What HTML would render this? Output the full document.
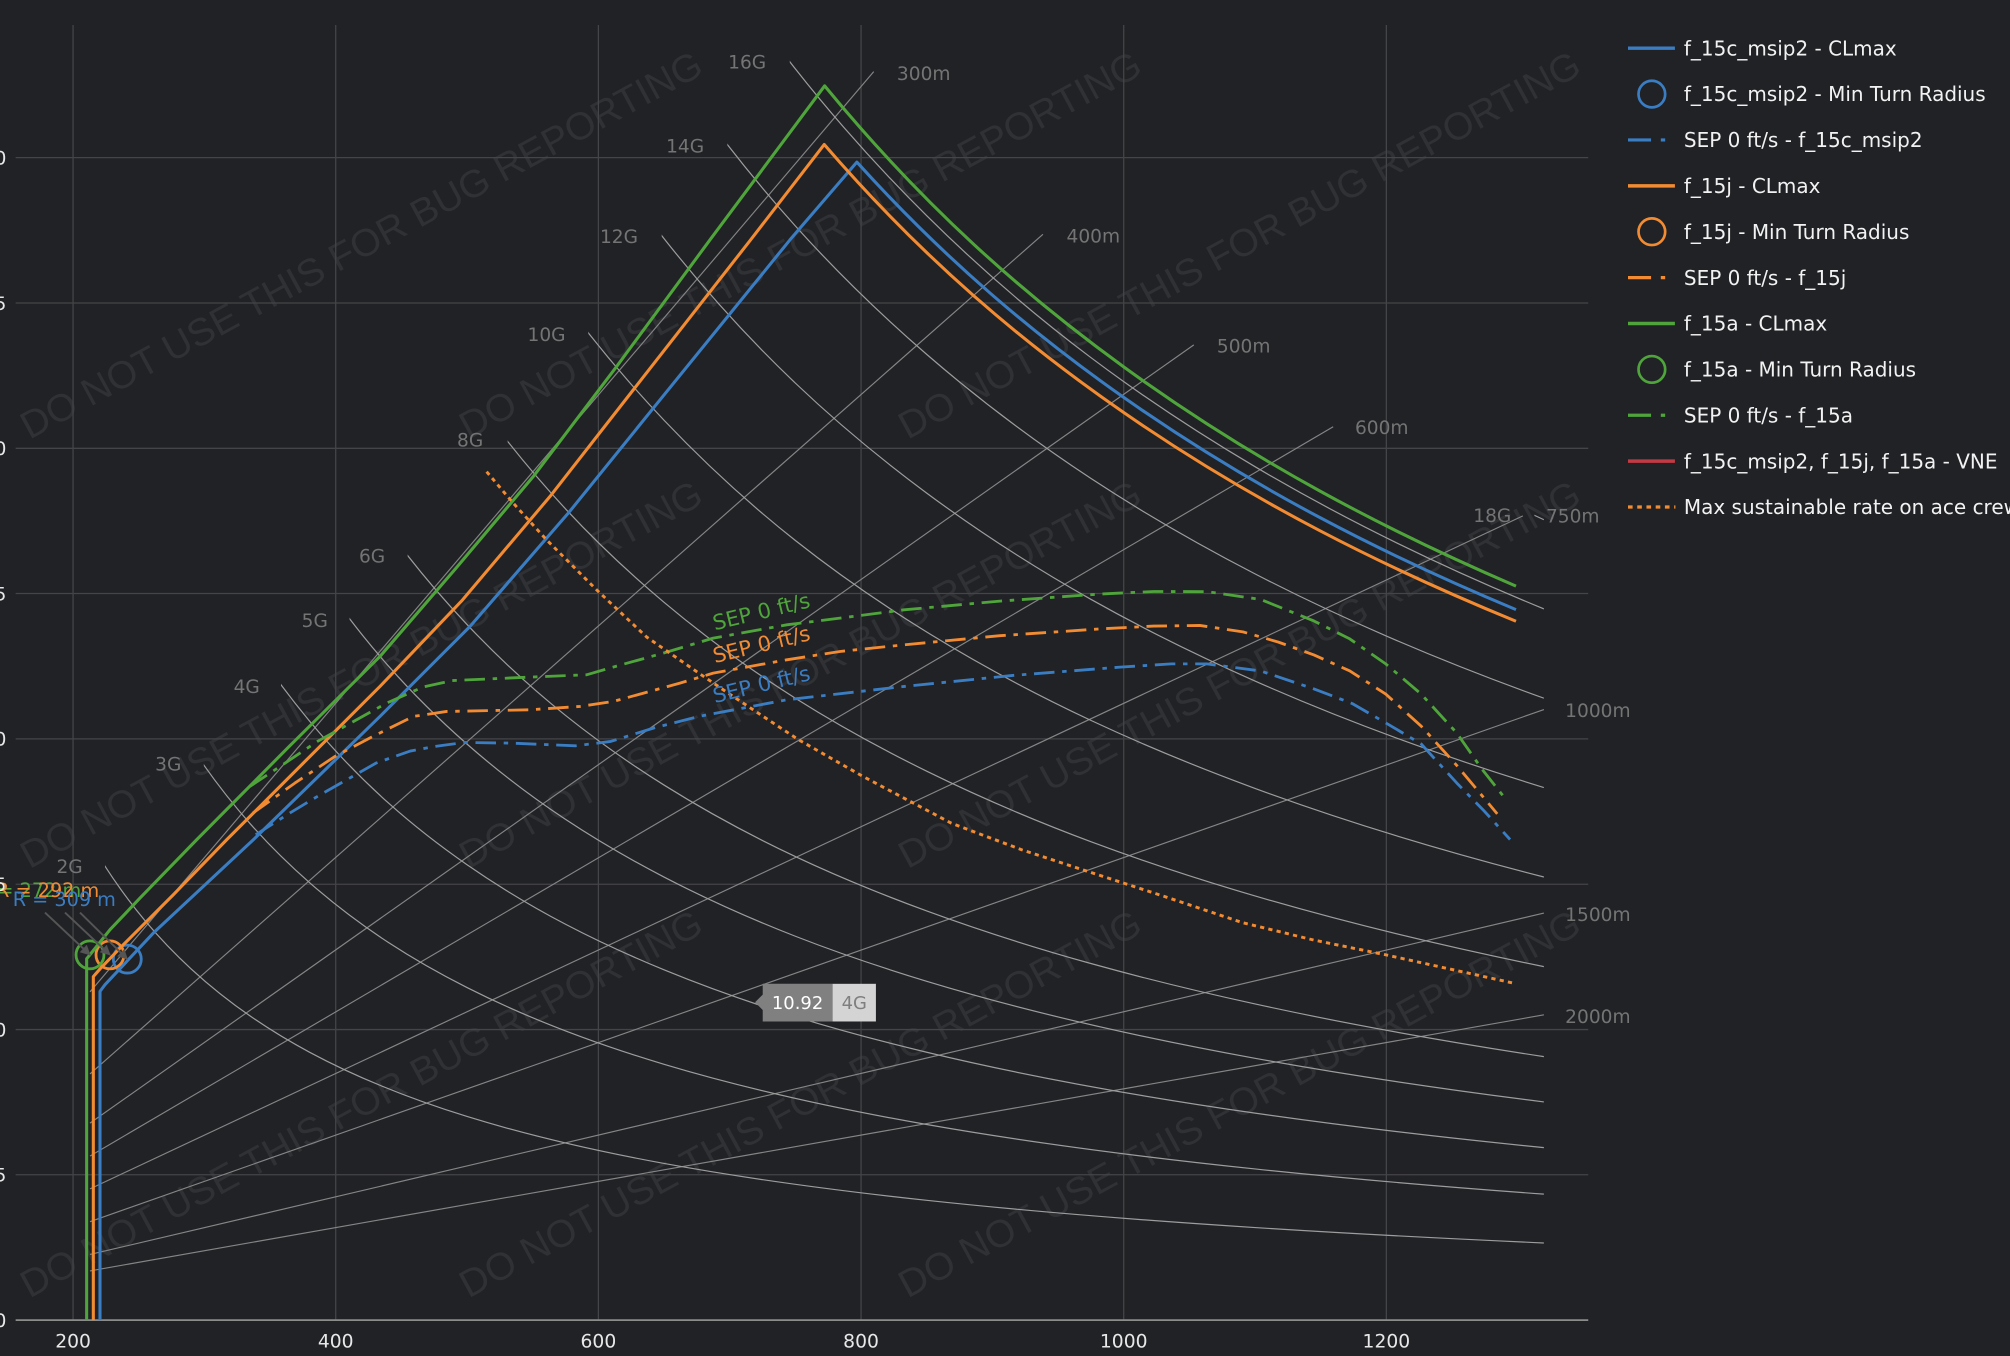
<!DOCTYPE html>
<html>
<head>
<meta charset="utf-8">
<style>
html,body{margin:0;padding:0;background:#202225;overflow:hidden;}
svg{display:block;}
</style>
</head>
<body>
<svg xmlns="http://www.w3.org/2000/svg" width="2010" height="1356" viewBox="0 0 1568 1058" preserveAspectRatio="none" font-family="'DejaVu Sans','Liberation Sans',sans-serif">
<defs>
<clipPath id="c2"><rect x="81.9" y="0" width="1122.5" height="1058"/></clipPath>
<clipPath id="c3"><rect x="159" y="0" width="1045.4" height="1058"/></clipPath>
<clipPath id="c4"><rect x="219.2" y="0" width="985.2" height="1058"/></clipPath>
<clipPath id="c5"><rect x="272.7" y="0" width="931.7" height="1058"/></clipPath>
<clipPath id="c6"><rect x="318" y="0" width="886.4" height="1058"/></clipPath>
<clipPath id="c8"><rect x="396" y="0" width="808.4" height="1058"/></clipPath>
<clipPath id="c10"><rect x="458.9" y="0" width="745.5" height="1058"/></clipPath>
<clipPath id="c12"><rect x="516.2" y="0" width="688.2" height="1058"/></clipPath>
<clipPath id="c14"><rect x="567.4" y="0" width="637" height="1058"/></clipPath>
<clipPath id="c16"><rect x="616.1" y="0" width="588.3" height="1058"/></clipPath>
<clipPath id="c18"><rect x="1197" y="0" width="7.4" height="1058"/></clipPath>
<marker id="ah" viewBox="0 0 10 10" refX="9" refY="5" markerWidth="9" markerHeight="8" markerUnits="userSpaceOnUse" orient="auto"><path d="M0,0 L10,5 L0,10 z" fill="#555"/></marker>
</defs>

<rect x="0" y="0" width="1568" height="1058" fill="#202225"/>

<!-- watermark -->
<g font-size="30" fill="#2f3134" font-family="'Liberation Sans',sans-serif">
<text transform="translate(23 343.2) rotate(-28.5)" textLength="600" lengthAdjust="spacingAndGlyphs">DO NOT USE THIS FOR BUG REPORTING</text>
<text transform="translate(365.5 343.2) rotate(-28.5)" textLength="600" lengthAdjust="spacingAndGlyphs">DO NOT USE THIS FOR BUG REPORTING</text>
<text transform="translate(708 343.2) rotate(-28.5)" textLength="600" lengthAdjust="spacingAndGlyphs">DO NOT USE THIS FOR BUG REPORTING</text>
<text transform="translate(23 678.2) rotate(-28.5)" textLength="600" lengthAdjust="spacingAndGlyphs">DO NOT USE THIS FOR BUG REPORTING</text>
<text transform="translate(365.5 678.2) rotate(-28.5)" textLength="600" lengthAdjust="spacingAndGlyphs">DO NOT USE THIS FOR BUG REPORTING</text>
<text transform="translate(708 678.2) rotate(-28.5)" textLength="600" lengthAdjust="spacingAndGlyphs">DO NOT USE THIS FOR BUG REPORTING</text>
<text transform="translate(23 1013.2) rotate(-28.5)" textLength="600" lengthAdjust="spacingAndGlyphs">DO NOT USE THIS FOR BUG REPORTING</text>
<text transform="translate(365.5 1013.2) rotate(-28.5)" textLength="600" lengthAdjust="spacingAndGlyphs">DO NOT USE THIS FOR BUG REPORTING</text>
<text transform="translate(708 1013.2) rotate(-28.5)" textLength="600" lengthAdjust="spacingAndGlyphs">DO NOT USE THIS FOR BUG REPORTING</text>
</g>

<!-- grid -->
<g stroke="#444548" stroke-width="1">
<line x1="12.2" y1="123" x2="1239" y2="123"/>
<line x1="12.2" y1="236.4" x2="1239" y2="236.4"/>
<line x1="12.2" y1="349.8" x2="1239" y2="349.8"/>
<line x1="12.2" y1="463.1" x2="1239" y2="463.1"/>
<line x1="12.2" y1="576.5" x2="1239" y2="576.5"/>
<line x1="12.2" y1="689.9" x2="1239" y2="689.9"/>
<line x1="12.2" y1="803.3" x2="1239" y2="803.3"/>
<line x1="12.2" y1="916.6" x2="1239" y2="916.6"/>
<line x1="57" y1="19.5" x2="57" y2="1030"/>
<line x1="261.9" y1="19.5" x2="261.9" y2="1030"/>
<line x1="466.8" y1="19.5" x2="466.8" y2="1030"/>
<line x1="671.7" y1="19.5" x2="671.7" y2="1030"/>
<line x1="876.6" y1="19.5" x2="876.6" y2="1030"/>
<line x1="1081.5" y1="19.5" x2="1081.5" y2="1030"/>
</g>
<line x1="12.2" y1="1030" x2="1239" y2="1030" stroke="#8c8c8c" stroke-width="1.4"/>

<!-- radius lines -->
<g stroke="#858585" stroke-width="0.9">
<line x1="70.2" y1="773.9" x2="681.6" y2="55.9"/>
<line x1="70.2" y1="837.9" x2="813.6" y2="182.8"/>
<line x1="70.2" y1="876.3" x2="931.3" y2="269.1"/>
<line x1="70.2" y1="902" x2="1040" y2="333"/>
<line x1="70.2" y1="927.6" x2="1188" y2="402.5"/>
<line x1="70.2" y1="953.2" x2="1204.4" y2="553.6"/>
<line x1="70.2" y1="978.8" x2="1204.4" y2="712.4"/>
<line x1="70.2" y1="991.6" x2="1204.4" y2="791.8"/>
</g>

<!-- constant G lines -->
<g fill="none" stroke="#9d9d9d" stroke-width="1.2">
<g clip-path="url(#c2)"><path vector-effect="non-scaling-stroke" transform="translate(0 1030) scale(1 79.444)" d="M77.49,-4.54545 C101.395,-4.06336 125.3,-3.72573 149.205,-3.44828 C179.94,-3.09156 210.675,-2.83934 241.41,-2.63158 C282.39,-2.35457 323.37,-2.16 364.35,-2 C415.575,-1.8 466.8,-1.6568 518.025,-1.53846 C586.325,-1.38067 654.625,-1.26874 722.925,-1.17647 C808.3,-1.06113 893.675,-0.97796 979.05,-0.90909 C1054.18,-0.84848 1129.31,-0.79966 1204.44,-0.757576"/></g>
<g clip-path="url(#c3)"><path vector-effect="non-scaling-stroke" transform="translate(0 1030) scale(1 129.73)" d="M77.49,-4.54545 C101.395,-4.06336 125.3,-3.72573 149.205,-3.44828 C179.94,-3.09156 210.675,-2.83934 241.41,-2.63158 C282.39,-2.35457 323.37,-2.16 364.35,-2 C415.575,-1.8 466.8,-1.6568 518.025,-1.53846 C586.325,-1.38067 654.625,-1.26874 722.925,-1.17647 C808.3,-1.06113 893.675,-0.97796 979.05,-0.90909 C1054.18,-0.84848 1129.31,-0.79966 1204.44,-0.757576"/></g>
<g clip-path="url(#c4)"><path vector-effect="non-scaling-stroke" transform="translate(0 1030) scale(1 177.643)" d="M77.49,-4.54545 C101.395,-4.06336 125.3,-3.72573 149.205,-3.44828 C179.94,-3.09156 210.675,-2.83934 241.41,-2.63158 C282.39,-2.35457 323.37,-2.16 364.35,-2 C415.575,-1.8 466.8,-1.6568 518.025,-1.53846 C586.325,-1.38067 654.625,-1.26874 722.925,-1.17647 C808.3,-1.06113 893.675,-0.97796 979.05,-0.90909 C1054.18,-0.84848 1129.31,-0.79966 1204.44,-0.757576"/></g>
<g clip-path="url(#c5)"><path vector-effect="non-scaling-stroke" transform="translate(0 1030) scale(1 224.7)" d="M77.49,-4.54545 C101.395,-4.06336 125.3,-3.72573 149.205,-3.44828 C179.94,-3.09156 210.675,-2.83934 241.41,-2.63158 C282.39,-2.35457 323.37,-2.16 364.35,-2 C415.575,-1.8 466.8,-1.6568 518.025,-1.53846 C586.325,-1.38067 654.625,-1.26874 722.925,-1.17647 C808.3,-1.06113 893.675,-0.97796 979.05,-0.90909 C1054.18,-0.84848 1129.31,-0.79966 1204.44,-0.757576"/></g>
<g clip-path="url(#c6)"><path vector-effect="non-scaling-stroke" transform="translate(0 1030) scale(1 271.352)" d="M77.49,-4.54545 C101.395,-4.06336 125.3,-3.72573 149.205,-3.44828 C179.94,-3.09156 210.675,-2.83934 241.41,-2.63158 C282.39,-2.35457 323.37,-2.16 364.35,-2 C415.575,-1.8 466.8,-1.6568 518.025,-1.53846 C586.325,-1.38067 654.625,-1.26874 722.925,-1.17647 C808.3,-1.06113 893.675,-0.97796 979.05,-0.90909 C1054.18,-0.84848 1129.31,-0.79966 1204.44,-0.757576"/></g>
<g clip-path="url(#c8)"><path vector-effect="non-scaling-stroke" transform="translate(0 1030) scale(1 364.047)" d="M77.49,-4.54545 C101.395,-4.06336 125.3,-3.72573 149.205,-3.44828 C179.94,-3.09156 210.675,-2.83934 241.41,-2.63158 C282.39,-2.35457 323.37,-2.16 364.35,-2 C415.575,-1.8 466.8,-1.6568 518.025,-1.53846 C586.325,-1.38067 654.625,-1.26874 722.925,-1.17647 C808.3,-1.06113 893.675,-0.97796 979.05,-0.90909 C1054.18,-0.84848 1129.31,-0.79966 1204.44,-0.757576"/></g>
<g clip-path="url(#c10)"><path vector-effect="non-scaling-stroke" transform="translate(0 1030) scale(1 456.357)" d="M77.49,-4.54545 C101.395,-4.06336 125.3,-3.72573 149.205,-3.44828 C179.94,-3.09156 210.675,-2.83934 241.41,-2.63158 C282.39,-2.35457 323.37,-2.16 364.35,-2 C415.575,-1.8 466.8,-1.6568 518.025,-1.53846 C586.325,-1.38067 654.625,-1.26874 722.925,-1.17647 C808.3,-1.06113 893.675,-0.97796 979.05,-0.90909 C1054.18,-0.84848 1129.31,-0.79966 1204.44,-0.757576"/></g>
<g clip-path="url(#c12)"><path vector-effect="non-scaling-stroke" transform="translate(0 1030) scale(1 548.486)" d="M77.49,-4.54545 C101.395,-4.06336 125.3,-3.72573 149.205,-3.44828 C179.94,-3.09156 210.675,-2.83934 241.41,-2.63158 C282.39,-2.35457 323.37,-2.16 364.35,-2 C415.575,-1.8 466.8,-1.6568 518.025,-1.53846 C586.325,-1.38067 654.625,-1.26874 722.925,-1.17647 C808.3,-1.06113 893.675,-0.97796 979.05,-0.90909 C1054.18,-0.84848 1129.31,-0.79966 1204.44,-0.757576"/></g>
<g clip-path="url(#c14)"><path vector-effect="non-scaling-stroke" transform="translate(0 1030) scale(1 640.478)" d="M77.49,-4.54545 C101.395,-4.06336 125.3,-3.72573 149.205,-3.44828 C179.94,-3.09156 210.675,-2.83934 241.41,-2.63158 C282.39,-2.35457 323.37,-2.16 364.35,-2 C415.575,-1.8 466.8,-1.6568 518.025,-1.53846 C586.325,-1.38067 654.625,-1.26874 722.925,-1.17647 C808.3,-1.06113 893.675,-0.97796 979.05,-0.90909 C1054.18,-0.84848 1129.31,-0.79966 1204.44,-0.757576"/></g>
<g clip-path="url(#c16)"><path vector-effect="non-scaling-stroke" transform="translate(0 1030) scale(1 732.448)" d="M77.49,-4.54545 C101.395,-4.06336 125.3,-3.72573 149.205,-3.44828 C179.94,-3.09156 210.675,-2.83934 241.41,-2.63158 C282.39,-2.35457 323.37,-2.16 364.35,-2 C415.575,-1.8 466.8,-1.6568 518.025,-1.53846 C586.325,-1.38067 654.625,-1.26874 722.925,-1.17647 C808.3,-1.06113 893.675,-0.97796 979.05,-0.90909 C1054.18,-0.84848 1129.31,-0.79966 1204.44,-0.757576"/></g>
<g clip-path="url(#c18)"><path vector-effect="non-scaling-stroke" transform="translate(0 1030) scale(1 824.304)" d="M77.49,-4.54545 C101.395,-4.06336 125.3,-3.72573 149.205,-3.44828 C179.94,-3.09156 210.675,-2.83934 241.41,-2.63158 C282.39,-2.35457 323.37,-2.16 364.35,-2 C415.575,-1.8 466.8,-1.6568 518.025,-1.53846 C586.325,-1.38067 654.625,-1.26874 722.925,-1.17647 C808.3,-1.06113 893.675,-0.97796 979.05,-0.90909 C1054.18,-0.84848 1129.31,-0.79966 1204.44,-0.757576"/></g>
</g>

<!-- G labels and radius labels -->
<g font-size="14.5" fill="#747474">
<g text-anchor="end">
<text x="597.7" y="53.3">16G</text>
<text x="549.3" y="119.1">14G</text>
<text x="497.7" y="189.8">12G</text>
<text x="441.2" y="266">10G</text>
<text x="377" y="348.4">8G</text>
<text x="300.5" y="438.7">6G</text>
<text x="255.8" y="489.3">5G</text>
<text x="202.7" y="540.8">4G</text>
<text x="141.5" y="601">3G</text>
<text x="64.5" y="681.2">2G</text>
<text x="1179" y="407.4">18G</text>
</g>
<text x="699.7" y="62.4">300m</text>
<text x="832" y="189.3">400m</text>
<text x="949.3" y="275">500m</text>
<text x="1057" y="338.5">600m</text>
<text x="1206" y="407.5">750m</text>
<text x="1221" y="559.5">1000m</text>
<text x="1221" y="718.5">1500m</text>
<text x="1221" y="798">2000m</text>
</g>

<!-- series -->
<g fill="none" stroke-linejoin="round">
<!-- blue -->
<path stroke="#3b7dc2" stroke-width="2.4" d="M78,1030 L78,773.5 L81.9,768.3 L119.6,728 L197.6,655.2 L296.4,559 L366.6,488.8 L443.3,400.4 L509.6,318.5 L616.2,187.2 L668.42,126.47 C737.81,203.28 807.21,261.31 876.6,310.07 C978.6,381.75 1080.62,433.15 1182.62,475.65"/>
<circle cx="99.3" cy="748.3" r="10.9" stroke="#3b7dc2" stroke-width="2.2"/>
<path stroke="#3b7dc2" stroke-width="2.2" stroke-dasharray="16 6 3.5 6" d="M199.5,651.3 L225,635 L247.6,621.4 L293.3,595.4 L320,586 L339.1,582.4 L362,579.3 L398.6,579.8 L449,581.9 L476.4,578.5 L510,568 L545.1,559 L613.8,546 L705.3,535.6 L790,527 L873.8,520.5 L913.7,518 L941.5,518 L983.4,523.5 L1025,537.5 L1055,549 L1081,564 L1108.7,580.5 L1136.5,611 L1158,633 L1178,655"/>
<!-- orange -->
<path stroke="#f28b32" stroke-width="2.4" d="M72.8,1030 L72.8,762 L78,756 L96.2,737.1 L135.2,698.1 L176.8,655.2 L236,596 L296.4,535.6 L360,469 L429,387.4 L494,304.2 L585.5,187.2 L643.01,112.72 C720.87,203.02 798.74,268.04 876.6,321.86 C978.6,392.37 1080.62,442.93 1182.62,484.73"/>
<circle cx="85.8" cy="745" r="10.9" stroke="#f28b32" stroke-width="2.2"/>
<path stroke="#f28b32" stroke-width="2.2" stroke-dasharray="16 6 3.5 6" d="M197.2,634.4 L230,611 L261.3,590.2 L290,575 L322.4,559 L348.4,555.1 L413.4,553.8 L452.4,551.2 L478.4,547.3 L530.4,533 L556.4,525.2 L613.8,514.8 L655.2,508.3 L705.3,503.1 L780,496 L858,490.7 L900,488.5 L936,488 L969.6,493 L997.3,501 L1025,511 L1053,523.5 L1081,541.5 L1108.7,566.6 L1136.5,597.3 L1168,635"/>
<!-- green -->
<path stroke="#4fa53b" stroke-width="2.4" d="M67.6,1030 L67.6,748 L69.7,745.5 L85.8,725.4 L109.2,700.7 L153.4,655.2 L225,583 L296.4,512.2 L356,443 L416,371.8 L481,286 L553.8,187.2 L643.32,66.98 C721.08,161.62 798.84,229.81 876.6,286.26 C978.6,360.31 1080.62,413.42 1182.62,457.32"/>
<circle cx="70.2" cy="745" r="10.9" stroke="#4fa53b" stroke-width="2.2"/>
<path stroke="#4fa53b" stroke-width="2.2" stroke-dasharray="16 6 3.5 6" d="M194.9,613.6 L220,597 L247.6,578.5 L301.6,548.6 L330,536 L352.8,531 L413.4,528.3 L457.6,526.5 L480,520 L517.4,509.6 L556.4,497.9 L613.8,487.5 L655.2,482.3 L705.3,475.8 L780,469 L858,463.5 L900,461.5 L941.5,461.6 L983.4,467.7 L1025,484.5 L1053,498.5 L1081,518 L1108.6,541.5 L1136.5,572 L1156,600 L1172.6,621"/>
<!-- max sustainable -->
<path stroke="#f28b32" stroke-width="2.3" stroke-dasharray="3.3 3.3" d="M379.6,368 L400.4,392.6 L426.4,421.2 L465.4,460.2 L504.4,497 L543.4,524 L568,540.8 L595.4,559 L623,577.2 L673.2,605.8 L742,642.2 L796.9,663 L858,683 L910,700 L969.6,720 L1025,733.5 L1081,745 L1182.6,767.5"/>
</g>

<!-- SEP labels -->
<g font-size="16.4">
<text transform="translate(557.6 491.8) rotate(-13.6)" fill="#4fa53b">SEP 0 ft/s</text>
<text transform="translate(557.7 517.4) rotate(-13.6)" fill="#f28b32">SEP 0 ft/s</text>
<text transform="translate(557.7 548.6) rotate(-13.6)" fill="#3b7dc2">SEP 0 ft/s</text>
</g>

<!-- min radius annotations -->
<g font-size="15">
<text x="-17.2" y="699.7" fill="#4fa53b">R = 272 m</text>
<text x="-3.1" y="699.7" fill="#f28b32">R = 292 m</text>
<text x="9.9" y="707" fill="#3b7dc2">R = 309 m</text>
</g>
<g stroke="#555" stroke-width="1.5" marker-end="url(#ah)">
<line x1="35.1" y1="712" x2="70.2" y2="745"/>
<line x1="50.7" y1="712" x2="85.8" y2="745"/>
<line x1="62.4" y1="712" x2="99.3" y2="748.3"/>
</g>

<!-- hover label -->
<path d="M589,782 L595,776 L595,767.6 L649.5,767.6 L649.5,797 L595,797 L595,788 Z" fill="#808080"/>
<rect x="649.5" y="767.6" width="33.8" height="29.4" fill="#d4d4d4"/>
<text x="622.2" y="787.2" text-anchor="middle" fill="#ffffff" font-size="14">10.92</text>
<text x="666.4" y="787.2" text-anchor="middle" fill="#7f7f7f" font-size="14">4G</text>

<!-- axis tick labels -->
<g font-size="14.6" fill="#e8e8e8">
<g text-anchor="end">
<text x="5" y="128.3">40</text>
<text x="5" y="241.7">35</text>
<text x="5" y="355.1">30</text>
<text x="5" y="468.4">25</text>
<text x="5" y="581.8">20</text>
<text x="5" y="695.2">15</text>
<text x="5" y="808.6">10</text>
<text x="5" y="921.9">5</text>
<text x="5" y="1035.3">0</text>
</g>
<g text-anchor="middle">
<text x="57" y="1051.2">200</text>
<text x="261.9" y="1051.2">400</text>
<text x="466.8" y="1051.2">600</text>
<text x="671.7" y="1051.2">800</text>
<text x="876.6" y="1051.2">1000</text>
<text x="1081.5" y="1051.2">1200</text>
</g>
</g>

<!-- legend -->
<g fill="none">
<line x1="1270" y1="37.6" x2="1306.6" y2="37.6" stroke="#3b7dc2" stroke-width="2.7"/>
<circle cx="1288.6" cy="73.4" r="10.4" stroke="#3b7dc2" stroke-width="2.1"/>
<line x1="1270" y1="109.2" x2="1300" y2="109.2" stroke="#3b7dc2" stroke-width="2.5" stroke-dasharray="18 7.6 3.4 20"/>
<line x1="1270" y1="145" x2="1306.6" y2="145" stroke="#f28b32" stroke-width="2.7"/>
<circle cx="1288.6" cy="180.8" r="10.4" stroke="#f28b32" stroke-width="2.1"/>
<line x1="1270" y1="216.6" x2="1300" y2="216.6" stroke="#f28b32" stroke-width="2.5" stroke-dasharray="18 7.6 3.4 20"/>
<line x1="1270" y1="252.4" x2="1306.6" y2="252.4" stroke="#4fa53b" stroke-width="2.7"/>
<circle cx="1288.6" cy="288.2" r="10.4" stroke="#4fa53b" stroke-width="2.1"/>
<line x1="1270" y1="324" x2="1300" y2="324" stroke="#4fa53b" stroke-width="2.5" stroke-dasharray="18 7.6 3.4 20"/>
<line x1="1270" y1="359.8" x2="1306.6" y2="359.8" stroke="#c23a43" stroke-width="2.7"/>
<line x1="1270" y1="395.6" x2="1307" y2="395.6" stroke="#f28b32" stroke-width="2.5" stroke-dasharray="3.6 3.6"/>
</g>
<g font-size="15.6" fill="#f2f2f2">
<text x="1313.6" y="43.2">f_15c_msip2 - CLmax</text>
<text x="1313.6" y="79">f_15c_msip2 - Min Turn Radius</text>
<text x="1313.6" y="114.8">SEP 0 ft/s - f_15c_msip2</text>
<text x="1313.6" y="150.6">f_15j - CLmax</text>
<text x="1313.6" y="186.4">f_15j - Min Turn Radius</text>
<text x="1313.6" y="222.2">SEP 0 ft/s - f_15j</text>
<text x="1313.6" y="258">f_15a - CLmax</text>
<text x="1313.6" y="293.8">f_15a - Min Turn Radius</text>
<text x="1313.6" y="329.6">SEP 0 ft/s - f_15a</text>
<text x="1313.6" y="365.4">f_15c_msip2, f_15j, f_15a - VNE</text>
<text x="1313.6" y="401.2">Max sustainable rate on ace crew</text>
</g>
</svg>
</body>
</html>
